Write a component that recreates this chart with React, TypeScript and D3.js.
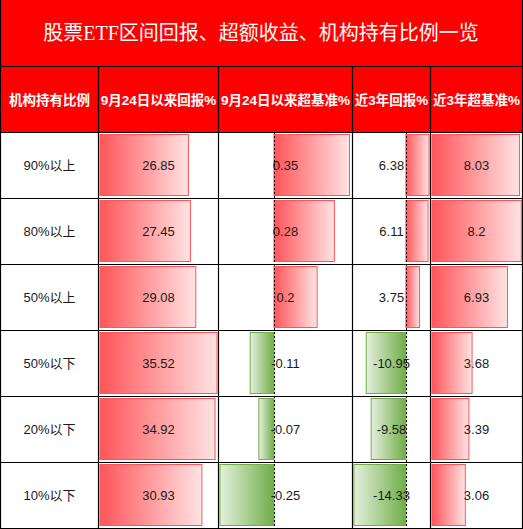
import React, { useEffect } from "react";
import * as d3 from "d3";

// ---- data ----
const title = "股票ETF区间回报、超额收益、机构持有比例一览";
const headers = ["机构持有比例", "9月24日以来回报%", "9月24日以来超基准%", "近3年回报%", "近3年超基准%"];
const groups = ["90%以上", "80%以上", "50%以上", "50%以下", "20%以下", "10%以下"];
const returnSince924 = [26.85, 27.45, 29.08, 35.52, 34.92, 30.93];
const excessSince924 = [0.35, 0.28, 0.2, -0.11, -0.07, -0.25];
const return3y = [6.38, 6.11, 3.75, -10.95, -9.58, -14.33];
const excess3y = [8.03, 8.2, 6.93, 3.68, 3.39, 3.06];

// ---- layout ----
const W = 523;
const H = 529;
const colEdges = [0.5, 98.5, 218.5, 352.5, 430.5, 522.5];
const titleH = 66;
const headerBottom = 132;
const tableBottom = 528;
const barPadL = 1.5;
const barPadR = [1.5, 3, 1.5, 1.2];
const dataCols = [returnSince924, excessSince924, return3y, excess3y];
const dashedCols = [1, 2]; // indexes into dataCols that have a dashed zero axis

const POS_DARK = "#ff555a";
const POS_LIGHT = "#ffe3e3";
const NEG_DARK = "#70ad47";
const NEG_LIGHT = "#e4f0dd";

const sansFont = "'Liberation Sans', Arial, 'Noto Sans CJK SC', sans-serif";

export default function App() {
  useEffect(() => {
    document.body.style.margin = "0";
  }, []);

  const y = d3
    .scaleBand<string>()
    .domain(groups)
    .range([headerBottom, tableBottom])
    .paddingInner(0)
    .paddingOuter(0);

  const xScales = dataCols.map((vals, i) => {
    const left = colEdges[i + 1];
    const right = colEdges[i + 2];
    const lo = Math.min(0, d3.min(vals) as number);
    const hi = Math.max(0, d3.max(vals) as number);
    return d3
      .scaleLinear()
      .domain([lo, hi])
      .range([left + barPadL, right - barPadR[i]]);
  });

  const bw = y.bandwidth();
  const barInset = 2.5;

  return (
    <svg
      width={W}
      height={H}
      style={{ position: "absolute", left: 0, top: 0, display: "block", background: "#fff" }}
    >
      <defs>
        <linearGradient id="gPos" x1="0" x2="1" y1="0" y2="0">
          <stop offset="0" stopColor={POS_DARK} />
          <stop offset="1" stopColor={POS_LIGHT} />
        </linearGradient>
        <linearGradient id="gNeg" x1="0" x2="1" y1="0" y2="0">
          <stop offset="0" stopColor={NEG_LIGHT} />
          <stop offset="1" stopColor={NEG_DARK} />
        </linearGradient>
      </defs>

      {/* title band */}
      <rect x={0} y={0} width={W - 1} height={titleH} fill="#ff0000" />
      <text
        x={(W - 1) / 2}
        y={titleH / 2}
        textAnchor="middle"
        dominantBaseline="central"
        fill="#fff"
        fontSize={20}
        fontFamily="'Liberation Serif', 'Noto Sans CJK SC', serif"
      >
        {title}
      </text>

      {/* header row */}
      <rect x={0} y={titleH} width={W - 1} height={headerBottom - titleH} fill="#ff0000" />
      {headers.map((h, i) => (
        <text
          key={h}
          x={(colEdges[i] + colEdges[i + 1]) / 2}
          y={(titleH + headerBottom) / 2 + 1}
          textAnchor="middle"
          dominantBaseline="central"
          fill="#fff"
          fontSize={13.5}
          fontWeight="bold"
          fontFamily={sansFont}
        >
          {h}
        </text>
      ))}

      {/* bars */}
      {dataCols.map((vals, ci) => {
        const x = xScales[ci];
        const x0 = x(0);
        return (
          <g key={"col" + ci}>
            {vals.map((v, ri) => {
              const xa = Math.min(x0, x(v));
              const w = Math.abs(x(v) - x0);
              const yy = (y(groups[ri]) as number) + barInset;
              const pos = v >= 0;
              return (
                <rect
                  key={ri}
                  x={xa}
                  y={yy}
                  width={w}
                  height={bw - barInset * 2}
                  fill={pos ? "url(#gPos)" : "url(#gNeg)"}
                  stroke={pos ? POS_DARK : NEG_DARK}
                  strokeWidth={1}
                />
              );
            })}
          </g>
        );
      })}

      {/* dashed zero axes */}
      {dashedCols.map((ci) => {
        const xx = Math.round(xScales[ci](0)) + 0.5;
        return (
          <line
            key={"ax" + ci}
            x1={xx}
            x2={xx}
            y1={headerBottom}
            y2={tableBottom}
            stroke="#000"
            strokeWidth={1}
            strokeDasharray="2,2"
          />
        );
      })}

      {/* grid lines */}
      {[titleH, ...groups.map((g) => y(g) as number), tableBottom].map((yy, i) => (
        <line
          key={"h" + i}
          x1={0}
          x2={W - 0.5}
          y1={yy + 0.5}
          y2={yy + 0.5}
          stroke="#000"
          strokeWidth={1.2}
        />
      ))}
      {colEdges.map((xx, i) => (
        <line
          key={"v" + i}
          x1={xx}
          x2={xx}
          y1={i === 0 || i === colEdges.length - 1 ? 0 : titleH}
          y2={tableBottom + 1}
          stroke="#000"
          strokeWidth={1.2}
        />
      ))}

      {/* labels */}
      {groups.map((g, ri) => (
        <text
          key={"l" + ri}
          x={(colEdges[0] + colEdges[1]) / 2}
          y={(y(g) as number) + bw / 2}
          textAnchor="middle"
          dominantBaseline="central"
          fill="#1a1a1a"
          fontSize={13}
          fontFamily={sansFont}
        >
          {g}
        </text>
      ))}
      {dataCols.map((vals, ci) =>
        vals.map((v, ri) => (
          <text
            key={"t" + ci + "-" + ri}
            x={(colEdges[ci + 1] + colEdges[ci + 2]) / 2}
            y={(y(groups[ri]) as number) + bw / 2}
            textAnchor="middle"
            dominantBaseline="central"
            fill="#1a1a1a"
            fontSize={13}
            fontFamily={sansFont}
          >
            {String(v)}
          </text>
        ))
      )}
    </svg>
  );
}
